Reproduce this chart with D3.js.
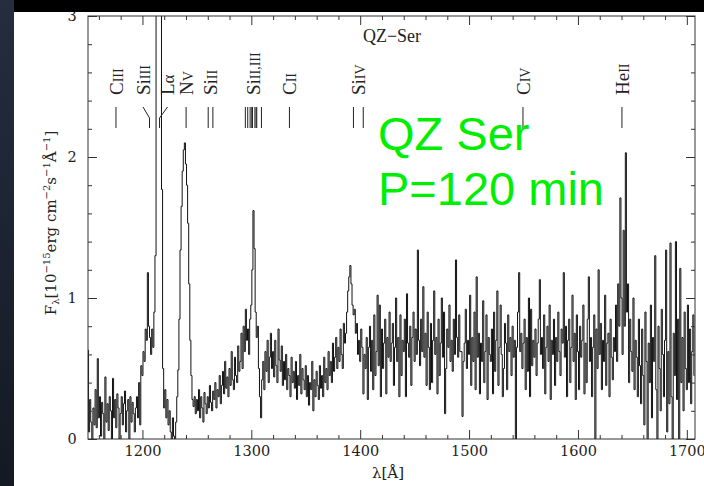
<!DOCTYPE html>
<html><head><meta charset="utf-8">
<script src="https://cdn.jsdelivr.net/npm/d3@7"></script>
<style>html,body{margin:0;padding:0;background:#fff;}svg{display:block;}</style>
</head><body>
<svg id="chart" width="704" height="486"></svg>
<script>
// ---- data ----
const waveStart = 1150, waveStep = 1;
const flux = [
0.63,0.05,0.28,0.12,0.00,0.22,0.10,0.35,0.08,0.57,
0.15,0.30,0.02,0.26,0.18,0.00,0.44,0.12,0.25,0.06,
0.30,0.20,0.00,0.43,0.15,0.28,0.08,0.32,0.22,0.00,
0.18,0.30,0.10,0.25,0.34,0.05,0.20,0.28,0.00,0.30,
0.12,0.26,0.18,0.05,0.22,0.30,0.15,0.40,0.10,0.52,
0.45,0.62,0.55,0.78,0.70,1.18,0.80,0.72,0.60,0.78,
0.65,0.90,1.30,4.00,4.00,4.00,4.00,4.00,1.77,0.50,
0.22,0.35,0.15,0.28,0.10,0.20,0.05,0.00,0.15,0.02,
0.00,0.12,0.30,0.49,0.85,1.34,1.65,1.90,2.05,2.10,
1.95,1.80,1.53,1.10,0.70,0.45,0.28,0.23,0.30,0.18,
0.28,0.20,0.35,0.15,0.30,0.22,0.12,0.33,0.25,0.18,
0.30,0.22,0.38,0.26,0.20,0.34,0.28,0.40,0.22,0.35,
0.30,0.45,0.25,0.38,0.48,0.32,0.55,0.36,0.44,0.30,
0.50,0.38,0.62,0.42,0.35,0.58,0.45,0.40,0.66,0.48,
0.55,0.75,0.50,0.80,0.62,0.92,0.70,0.78,0.60,0.85,
0.95,1.20,1.62,1.35,0.90,0.72,0.80,0.50,0.30,0.15,
0.42,0.55,0.35,0.62,0.48,0.70,0.40,0.58,0.75,0.50,
0.62,0.44,0.70,0.52,0.40,0.78,0.56,0.48,0.66,0.38,
0.55,0.42,0.60,0.35,0.50,0.45,0.30,0.58,0.40,0.48,
0.36,0.55,0.28,0.45,0.38,0.60,0.32,0.50,0.42,0.35,
0.52,0.30,0.45,0.24,0.40,0.35,0.55,0.20,0.42,0.30,
0.48,0.38,0.28,0.52,0.36,0.45,0.30,0.58,0.40,0.50,
0.35,0.62,0.45,0.55,0.40,0.68,0.48,0.58,0.72,0.50,
0.65,0.55,0.78,0.60,0.50,0.82,0.68,0.75,0.90,1.05,
1.15,1.23,1.10,0.95,0.88,0.92,0.75,0.82,0.60,0.70,
0.55,0.78,0.65,0.32,0.60,0.50,0.72,0.28,0.65,0.80,
0.48,0.70,0.35,0.88,0.45,0.62,1.02,0.52,0.95,0.30,
0.78,0.50,0.68,0.85,0.32,0.72,0.58,0.90,0.55,0.68,
0.82,0.38,0.65,1.00,0.55,0.72,0.30,0.88,0.45,0.70,
0.62,0.85,0.30,1.03,0.68,0.58,0.80,0.38,0.72,0.90,
0.55,0.78,0.60,1.34,0.70,0.52,0.85,0.62,1.08,0.58,
0.75,0.38,0.90,0.65,0.35,0.82,0.40,0.70,1.05,0.60,
0.72,0.32,0.85,0.45,0.68,1.00,0.58,0.90,0.18,0.50,
0.78,0.65,0.95,0.55,0.70,0.48,0.85,0.60,1.27,0.72,
0.58,0.88,0.62,0.62,0.16,0.55,0.68,0.92,0.50,0.70,
0.60,1.02,0.38,0.72,0.55,0.90,0.35,1.15,0.58,0.75,
0.32,0.68,0.55,0.98,0.40,0.62,0.88,0.28,0.72,0.60,
0.55,0.78,0.32,0.90,0.48,0.70,1.05,0.38,0.65,0.95,
0.60,0.30,0.50,0.82,0.68,0.35,0.88,0.62,0.72,0.45,
0.80,0.58,0.70,0.00,0.65,0.90,1.18,0.62,0.75,0.50,
0.68,0.85,0.35,0.72,0.48,1.00,0.30,0.92,0.52,0.70,
0.58,0.78,0.45,0.68,0.85,1.13,0.60,0.72,0.50,0.88,
0.32,0.65,0.80,0.55,0.95,0.28,0.70,0.60,0.85,0.38,
0.72,0.55,0.90,0.62,0.45,0.78,0.68,1.18,0.58,0.80,
0.30,0.70,0.85,0.40,0.65,1.02,0.55,0.75,0.28,0.88,
0.62,0.35,0.80,0.58,0.70,0.95,0.32,0.68,0.40,0.85,
1.15,0.55,0.72,0.30,0.65,0.88,0.00,0.78,0.50,1.20,
0.60,0.82,0.35,0.70,0.55,1.02,0.38,0.68,0.75,0.30,
0.85,0.58,0.42,0.72,0.62,0.95,0.55,1.10,0.80,1.71,
1.00,0.60,1.48,0.80,2.03,0.90,1.10,0.40,0.85,0.62,
0.48,1.00,0.35,0.70,0.58,0.30,0.85,0.52,0.25,0.78,
0.45,0.10,0.90,0.55,0.00,0.68,0.40,0.95,0.15,0.72,
0.55,1.30,0.35,0.00,0.80,0.50,0.20,0.92,0.60,0.30,
0.70,1.34,0.05,0.62,0.25,1.39,0.30,0.00,0.75,0.45,
1.40,0.28,0.85,0.00,1.21,0.40,0.72,0.20,0.90,0.50,
0.35,0.95,0.40,0.78,0.25,0.62,0.88,0.45
];
const xMajorTicks = [1200,1300,1400,1500,1600,1700];
const yMajorTicks = [0,1,2,3];
const ionElements = ["C","Si","L","N","Si","Si","C","Si","C","He"];
const ionStages   = ["III","III","α","V","II","II,III","II","IV","IV","II"];
const ionWaves = [[1175.7],[1206.5],[1215.7],[1240.1],[1260.4,1264.7],
  [1294.5,1296.7,1298.9,1300.4,1301.1,1303.3,1304.4,1305.0,1309.3],
  [1335.0],[1393.8,1402.8],[1549.5],[1640.4]];
const titleText = "QZ\u2212Ser";
const noteLines = ["QZ Ser","P=120 min"];

// ---- layout ----
const svg = d3.select("#chart");
const L = 88, R = 695, T = 16, B = 439;
const x = d3.scaleLinear().domain([1150,1707.5]).range([L,R]);
const y = d3.scaleLinear().domain([0,3]).range([B,T]);
const serif = "'Liberation Serif','DejaVu Serif',serif";
const dserif = "'DejaVu Serif',serif";

const defs = svg.append("defs");
const gr = defs.append("linearGradient").attr("id","bg").attr("x1",0).attr("y1",0).attr("x2",0).attr("y2",1);
gr.append("stop").attr("offset","0%").attr("stop-color","#252d3e");
gr.append("stop").attr("offset","100%").attr("stop-color","#141923");
defs.append("clipPath").attr("id","clip").append("rect")
  .attr("x",L).attr("y",T).attr("width",R-L).attr("height",B-T);
svg.append("rect").attr("width",704).attr("height",486).attr("fill","#fff");

// spectrum
const data = flux.map((f,i)=>({w: waveStart + i*waveStep, f}));
svg.append("path").datum(data)
  .attr("clip-path","url(#clip)")
  .attr("fill","none").attr("stroke","#111").attr("stroke-width",1)
  .attr("d", d3.line().x(d=>x(d.w)).y(d=>y(d.f)).curve(d3.curveStep));

// axes
const xMinor = d3.range(1160,1708,20).filter(v=>!xMajorTicks.includes(v));
const yMinor = d3.range(0.2,3,0.2).map(v=>+v.toFixed(1)).filter(v=>!yMajorTicks.includes(v));
function styleAxis(g){ g.select(".domain").remove(); g.selectAll("line").attr("stroke","#333"); }
svg.append("g").attr("transform",`translate(0,${B})`)
  .call(d3.axisBottom(x).tickValues(xMajorTicks).tickSize(-9).tickFormat(d3.format("d")))
  .call(styleAxis)
  .call(g=>g.selectAll("text").attr("y",17).attr("dy",0).attr("font-family",dserif)
     .attr("font-size",14.5).attr("fill","#222"));
svg.append("g").attr("transform",`translate(0,${B})`)
  .call(d3.axisBottom(x).tickValues(xMinor).tickSize(-4).tickFormat("")).call(styleAxis);
svg.append("g").attr("transform",`translate(0,${T})`)
  .call(d3.axisTop(x).tickValues(xMajorTicks).tickSize(-9).tickFormat("")).call(styleAxis);
svg.append("g").attr("transform",`translate(0,${T})`)
  .call(d3.axisTop(x).tickValues(xMinor).tickSize(-4).tickFormat("")).call(styleAxis);
svg.append("g").attr("transform",`translate(${L},0)`)
  .call(d3.axisLeft(y).tickValues(yMajorTicks).tickSize(-9).tickFormat(d3.format("d")))
  .call(styleAxis)
  .call(g=>g.selectAll("text").attr("x",-16).attr("text-anchor","middle").attr("font-family",dserif)
     .attr("font-size",14.5).attr("fill","#222"));
svg.append("g").attr("transform",`translate(${L},0)`)
  .call(d3.axisLeft(y).tickValues(yMinor).tickSize(-4).tickFormat("")).call(styleAxis);
svg.append("g").attr("transform",`translate(${R},0)`)
  .call(d3.axisRight(y).tickValues(yMajorTicks).tickSize(-9).tickFormat("")).call(styleAxis);
svg.append("g").attr("transform",`translate(${R},0)`)
  .call(d3.axisRight(y).tickValues(yMinor).tickSize(-4).tickFormat("")).call(styleAxis);
svg.append("rect").attr("x",L).attr("y",T).attr("width",R-L).attr("height",B-T)
  .attr("fill","none").attr("stroke","#333").attr("stroke-width",1);

// axis titles
svg.append("text").attr("x",388).attr("y",478).attr("text-anchor","middle")
  .attr("font-family",dserif).attr("font-size",15).attr("fill","#222").text("λ[Å]");
const yt = svg.append("text").attr("transform","translate(56,223) rotate(-90)").attr("text-anchor","middle")
  .attr("font-family",dserif).attr("font-size",15).attr("fill","#222");
yt.append("tspan").text("F");
yt.append("tspan").attr("font-size",10).attr("dy",3).text("λ");
yt.append("tspan").attr("dy",-3).text("[10");
yt.append("tspan").attr("font-size",10).attr("dy",-6).text("−15");
yt.append("tspan").attr("dy",6).text("erg cm");
yt.append("tspan").attr("font-size",10).attr("dy",-6).text("−2");
yt.append("tspan").attr("dy",6).text("s");
yt.append("tspan").attr("font-size",10).attr("dy",-6).text("−1");
yt.append("tspan").attr("dy",6).text("Å");
yt.append("tspan").attr("font-size",10).attr("dy",-6).text("−1");
yt.append("tspan").attr("dy",6).text("]");

// title
svg.append("text").attr("x",392).attr("y",42).attr("text-anchor","middle")
  .attr("font-family",serif).attr("font-size",18).attr("fill","#222").text(titleText);

// line identifications
const labelShift = {1:-6.5, 2:8};
ionElements.forEach((el,i)=>{
  const ws = ionWaves[i];
  const mid = (d3.min(ws)+d3.max(ws))/2;
  const lx = x(mid) + (labelShift[i]||0);
  const t = svg.append("text").attr("transform",`translate(${lx},95) rotate(-90)`)
    .attr("dy","0.35em").attr("font-family",serif).attr("font-size",19).attr("fill","#222");
  t.append("tspan").text(el);
  if (ionStages[i] === "α") t.append("tspan").attr("font-size",17).text("α");
  else t.append("tspan").attr("font-size",14).text(ionStages[i]);
  ws.forEach(w=>{
    const px = x(w);
    if (labelShift[i]) {
      svg.append("path").attr("d",`M${px+labelShift[i]},107L${px},118L${px},128`)
        .attr("fill","none").attr("stroke","#222").attr("stroke-width",1);
    } else {
      svg.append("line").attr("x1",px).attr("x2",px).attr("y1",107).attr("y2",128)
        .attr("stroke","#222").attr("stroke-width",1);
    }
  });
});

// green annotation
noteLines.forEach((s,i)=>{
  svg.append("text").attr("x",378).attr("y",150 + i*55)
    .attr("font-family","'Liberation Sans',Arial,sans-serif").attr("font-size",47)
    .attr("fill","#00ee00").text(s);
});

// slide frame
svg.append("rect").attr("x",0).attr("y",0).attr("width",704).attr("height",12).attr("fill","#000");
svg.append("rect").attr("x",0).attr("y",0).attr("width",14).attr("height",486).attr("fill","url(#bg)");
</script>
</body></html>
